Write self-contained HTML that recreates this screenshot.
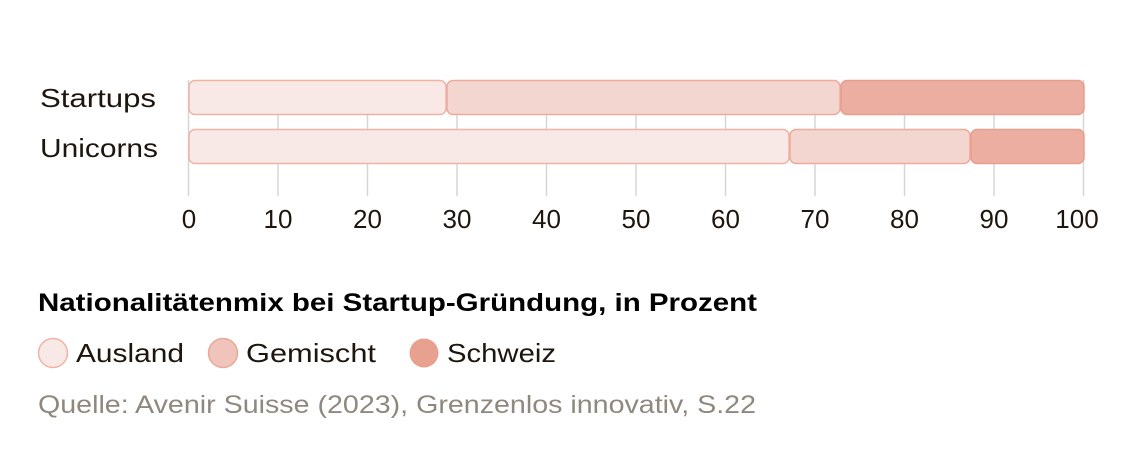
<!DOCTYPE html>
<html><head><meta charset="utf-8"><style>
body{margin:0;width:1140px;height:448px;background:#fff;overflow:hidden;font-family:"Liberation Sans",sans-serif;}
</style></head><body>
<svg width="1140" height="448" xmlns="http://www.w3.org/2000/svg" font-family="Liberation Sans, sans-serif">
<g stroke="#d6d6d6" stroke-width="1.5">
<line x1="188.5" y1="80" x2="188.5" y2="196"/><line x1="278" y1="80" x2="278" y2="196"/><line x1="367.5" y1="80" x2="367.5" y2="196"/><line x1="457" y1="80" x2="457" y2="196"/><line x1="546.5" y1="80" x2="546.5" y2="196"/><line x1="636" y1="80" x2="636" y2="196"/><line x1="725.5" y1="80" x2="725.5" y2="196"/><line x1="815" y1="80" x2="815" y2="196"/><line x1="904.5" y1="80" x2="904.5" y2="196"/><line x1="994" y1="80" x2="994" y2="196"/><line x1="1083.5" y1="80" x2="1083.5" y2="196"/>
</g>
<g stroke-width="1.5">
<rect x="189" y="80.5" width="257" height="34" rx="6" fill="#f9e9e6" stroke="#efb3a6"/>
<rect x="447" y="80.5" width="393" height="34" rx="6" fill="#f4d6d0" stroke="#eeaa9b"/>
<rect x="841" y="80.5" width="243" height="34" rx="6" fill="#ecaea1" stroke="#e79e8c"/>
<rect x="189" y="129.5" width="600" height="34" rx="6" fill="#f9e9e6" stroke="#efb3a6"/>
<rect x="790" y="129.5" width="180" height="34" rx="6" fill="#f4d6d0" stroke="#eeaa9b"/>
<rect x="971" y="129.5" width="113" height="34" rx="6" fill="#ecaea1" stroke="#e79e8c"/>
</g>
<g font-size="26" fill="#1e160e">
<text x="40" y="107" textLength="116" lengthAdjust="spacingAndGlyphs">Startups</text>
<text x="40" y="157" textLength="118" lengthAdjust="spacingAndGlyphs">Unicorns</text>
</g>
<g font-size="26" fill="#1e160e" text-anchor="middle">
<text x="189" y="228">0</text><text x="278" y="228">10</text><text x="367.5" y="228">20</text><text x="457" y="228">30</text><text x="546.5" y="228">40</text><text x="636" y="228">50</text><text x="725.5" y="228">60</text><text x="815" y="228">70</text><text x="904.5" y="228">80</text><text x="994" y="228">90</text><text x="1077" y="228">100</text>
</g>
<text x="38" y="311" font-size="25" font-weight="bold" fill="#000" textLength="719" lengthAdjust="spacingAndGlyphs">Nationalitätenmix bei Startup-Gründung, in Prozent</text>
<circle cx="53" cy="353" r="14.5" fill="#f9e9e6" stroke="#efb3a6" stroke-width="1.5"/>
<circle cx="223" cy="353" r="14.5" fill="#f0c4ba" stroke="#eaa898" stroke-width="1.5"/>
<circle cx="424" cy="353" r="14.5" fill="#e8a08f"/>
<g font-size="26" fill="#1e160e">
<text x="76" y="362" textLength="108" lengthAdjust="spacingAndGlyphs">Ausland</text>
<text x="246" y="362" textLength="130" lengthAdjust="spacingAndGlyphs">Gemischt</text>
<text x="447" y="362" textLength="109" lengthAdjust="spacingAndGlyphs">Schweiz</text>
</g>
<text x="38" y="413" font-size="25" fill="#8f887e" textLength="718" lengthAdjust="spacingAndGlyphs">Quelle: Avenir Suisse (2023), Grenzenlos innovativ, S.22</text>
</svg>
</body></html>
